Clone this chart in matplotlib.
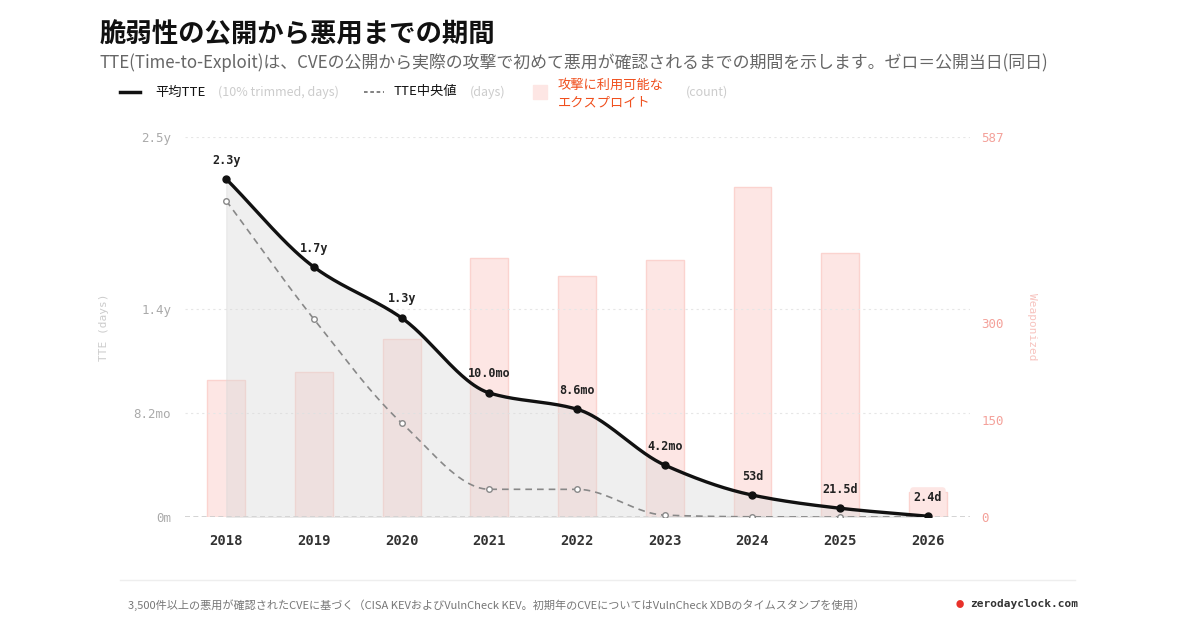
import matplotlib
matplotlib.use("Agg")
import matplotlib.pyplot as plt
import numpy as np

years = ["2018","2019","2020","2021","2022","2023","2024","2025","2026"]
mean_tte = [811, 600, 478, 298, 259, 125, 53, 21.5, 2.4]
median_tte = [759, 475, 226, 67, 67, 5, 1, 0.5, 0.5]
weaponized = [212, 224, 275, 400, 372, 397, 510, 408, 39]
mean_labels = ["2.3y","1.7y","1.3y","10.0mo","8.6mo","4.2mo","53d","21.5d","2.4d"]
left_ticks = [0, 250, 500, 912.5]
left_ticklabels = ["0m", "8.2mo", "1.4y", "2.5y"]
right_ticks = [0, 150, 300, 587]

JP = ["Noto Sans CJK JP", "DejaVu Sans"]
MONO = ["DejaVu Sans Mono"]
plt.rcParams['font.family'] = JP

def pchip(x, y, xs):
    x = np.asarray(x, float); y = np.asarray(y, float)
    h = np.diff(x); d = np.diff(y) / h
    m = np.zeros_like(y)
    m[0], m[-1] = d[0], d[-1]
    for i in range(1, len(y) - 1):
        if d[i-1] * d[i] <= 0:
            m[i] = 0
        else:
            w1 = 2*h[i] + h[i-1]; w2 = h[i] + 2*h[i-1]
            m[i] = (w1 + w2) / (w1/d[i-1] + w2/d[i])
    out = np.empty_like(xs)
    for j, xv in enumerate(xs):
        i = min(np.searchsorted(x, xv, side='right') - 1, len(x) - 2)
        t = (xv - x[i]) / h[i]
        h00 = 2*t**3 - 3*t**2 + 1; h10 = t**3 - 2*t**2 + t
        h01 = -2*t**3 + 3*t**2; h11 = t**3 - t**2
        out[j] = h00*y[i] + h10*h[i]*m[i] + h01*y[i+1] + h11*h[i]*m[i+1]
    return out

fig = plt.figure(figsize=(12, 6.3), dpi=100)
ax = fig.add_axes([185/1200, 0.179, 785/1200, 0.604])
ax2 = ax.twinx()
x = np.arange(len(years))
ax2.bar(x, weaponized, width=0.43, color="#fde6e4", edgecolor="#fbd3cf", linewidth=1, zorder=1)
ax2.set_ylim(0, 587)
ax2.set_yticks(right_ticks)
ax2.set_yticklabels([str(v) for v in right_ticks], family=MONO, fontsize=9, color="#f4a19a")
ax2.tick_params(length=0, pad=8)
ax2.set_ylabel("Weaponized", family=MONO, fontsize=8, color="#f7c3be", rotation=270, labelpad=24)
ax.set_zorder(ax2.get_zorder() + 1); ax.patch.set_visible(False)

xs = np.linspace(0, 8, 400)
ys = pchip(x, mean_tte, xs)
ys2 = pchip(x, median_tte, xs)
ax.fill_between(xs, ys, 0, color="#d9d9d9", alpha=0.4, zorder=2)
ax.plot(xs, ys2, color="#888888", lw=1.2, ls=(0, (4, 3)), zorder=3)
ax.plot(x, median_tte, 'o', ms=4, mfc="white", mec="#888888", mew=1, zorder=4)
ax.plot(xs, ys, color="#111111", lw=2.4, zorder=5)
ax.plot(x, mean_tte, 'o', ms=5, color="#111111", zorder=6)
for i, (v, lab) in enumerate(zip(mean_labels and mean_tte, mean_labels)):
    kw = {}
    if i == 8:
        kw = dict(bbox=dict(boxstyle="round,pad=0.3", fc="#fde6e4", ec="none"))
    ax.annotate(lab, (i, v), xytext=(0, 9), textcoords="offset points", ha="center", va="bottom",
                family=MONO, fontsize=8.5, fontweight="bold", color="#222222", **kw)

ax.set_xlim(-0.47, 8.48)
ax.set_ylim(0, 912.5)
ax.set_yticks(left_ticks)
ax.set_yticklabels(left_ticklabels, family=MONO, fontsize=9, color="#aaaaaa")
ax.set_xticks(x)
ax.set_xticklabels(years, family=MONO, fontsize=10, fontweight="bold", color="#333333")
ax.tick_params(length=0, pad=10)
ax.tick_params(axis='x', pad=12)
for t in left_ticks[1:]:
    ax.axhline(t, color="#e6e6e6", lw=0.8, ls=(0, (2, 3)), zorder=0)
ax.axhline(0, color="#cccccc", lw=1.2, ls=(0, (3, 2)), zorder=1)
ax.set_ylabel("TTE (days)", family=MONO, fontsize=8, color="#cccccc", labelpad=18)
for a in (ax, ax2):
    for s in a.spines.values():
        s.set_visible(False)

fig.text(100/1200, 1 - 35/630, "脆弱性の公開から悪用までの期間", fontsize=19, fontweight="bold", va="center", color="#111111")
fig.text(100/1200, 1 - 63/630, "TTE(Time-to-Exploit)は、CVEの公開から実際の攻撃で初めて悪用が確認されるまでの期間を示します。ゼロ＝公開当日(同日)",
         fontsize=12.2, va="center", color="#666666")
ly = 1 - 92/630
fig.add_artist(plt.Line2D([120/1200, 140/1200], [ly, ly], color="#111111", lw=2.5))
fig.text(155/1200, ly, "平均TTE", fontsize=9.5, va="center", color="#111111")
fig.text(218/1200, ly, "(10% trimmed, days)", fontsize=9, va="center", color="#cccccc")
fig.add_artist(plt.Line2D([364/1200, 384/1200], [ly, ly], color="#777777", lw=1.3, ls=(0, (2, 1.5))))
fig.text(394/1200, ly, "TTE中央値", fontsize=9.5, va="center", color="#111111")
fig.text(470/1200, ly, "(days)", fontsize=9, va="center", color="#cccccc")
fig.add_artist(plt.Rectangle((533/1200, ly - 7/630), 14/1200, 14/630, color="#fde6e4"))
fig.text(558/1200, 1 - 85/630, "攻撃に利用可能な", fontsize=9.5, va="center", color="#f0501e")
fig.text(558/1200, 1 - 103/630, "エクスプロイト", fontsize=9.5, va="center", color="#f0501e")
fig.text(686/1200, ly, "(count)", fontsize=9, va="center", color="#cccccc")

fig.add_artist(plt.Line2D([120/1200, 1075/1200], [1 - 580/630] * 2, color="#eeeeee", lw=1))
fig.text(128/1200, 1 - 605/630, "3,500件以上の悪用が確認されたCVEに基づく（CISA KEVおよびVulnCheck KEV。初期年のCVEについてはVulnCheck XDBのタイムスタンプを使用）",
         fontsize=8, va="center", color="#777777")
fig.text(960/1200, 1 - 604/630, "●", fontsize=6, va="center", ha="center", color="#e8312a")
fig.text(970/1200, 1 - 604/630, "zerodayclock.com", family=MONO, fontsize=8, fontweight="bold", va="center", color="#333333")

fig.savefig("out.png", dpi=100, facecolor="white")
